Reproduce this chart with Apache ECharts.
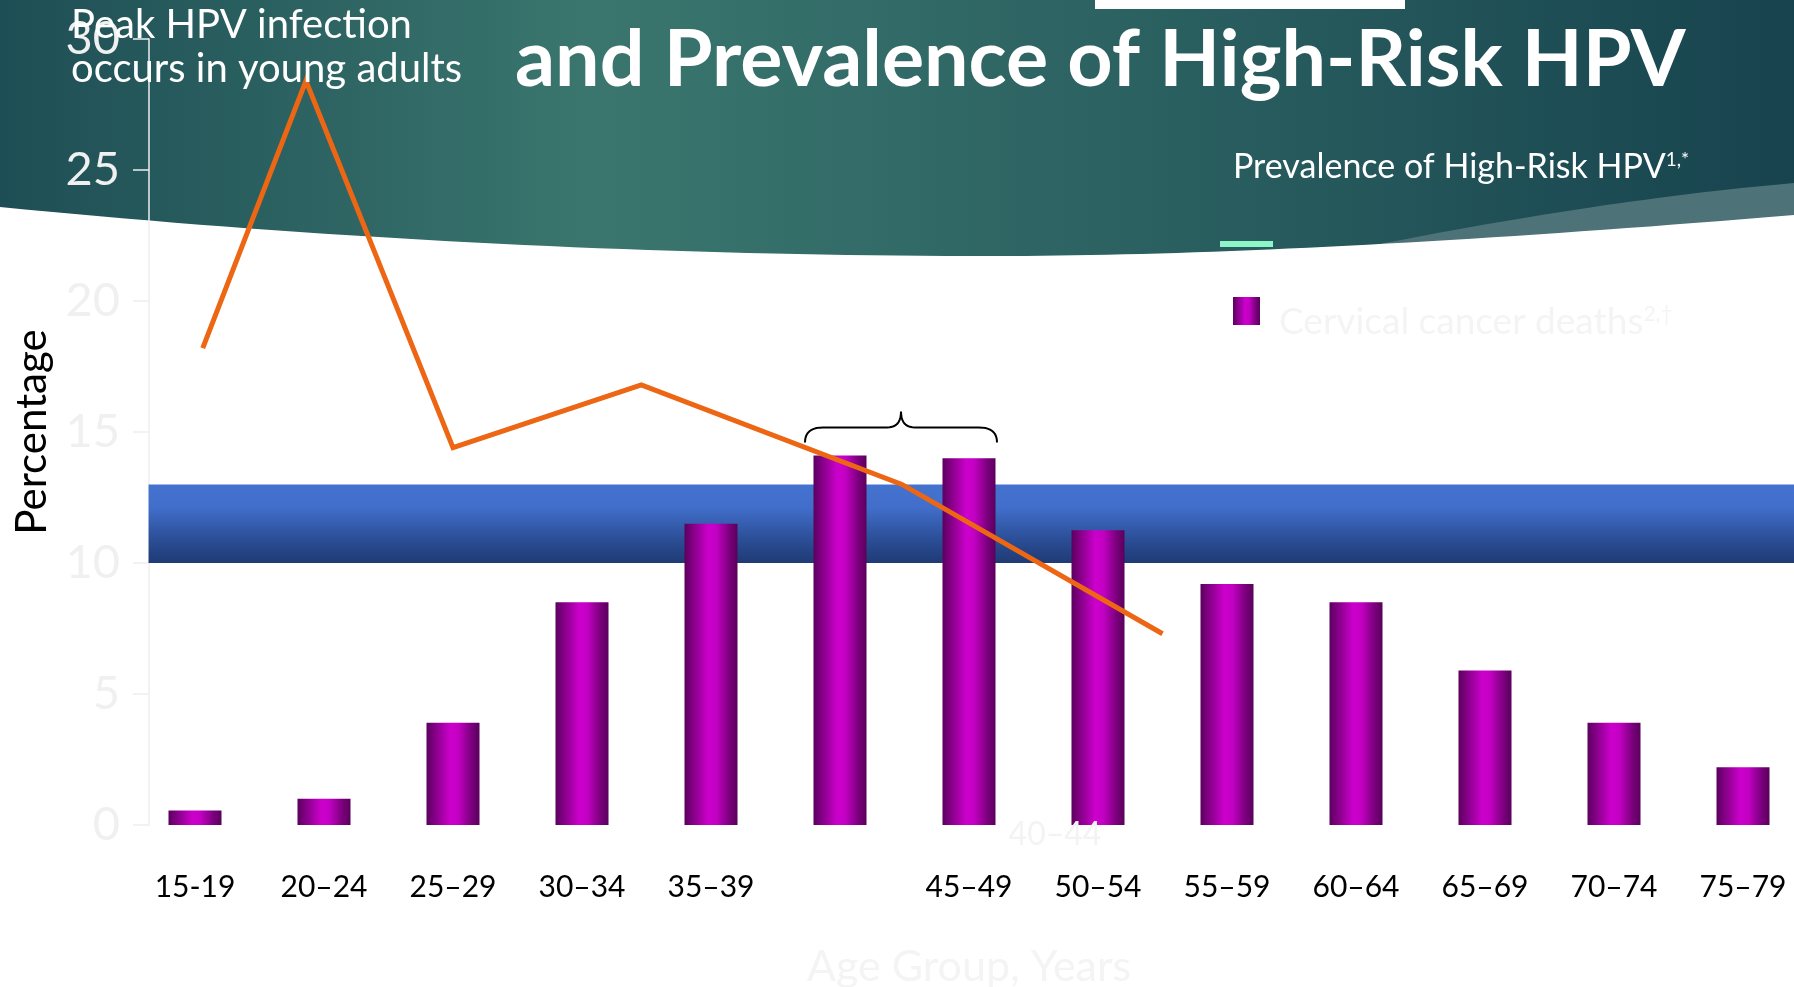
<!DOCTYPE html>
<html>
<head>
<meta charset="utf-8">
<title>Cervical cancer deaths and prevalence of high-risk HPV</title>
<script src="https://cdn.jsdelivr.net/npm/echarts@6/dist/echarts.min.js"></script>
<style>
  html, body { margin: 0; padding: 0; background: #fff; }
  #main { width: 1794px; height: 987px; }
</style>
</head>
<body>
<div id="main"></div>
<script>
// age groups on the category axis
const ageGroups = ['15-19', '20–24', '25–29', '30–34', '35–39', '40–44', '45–49',
  '50–54', '55–59', '60–64', '65–69', '70–74', '75–79'];
// cervical cancer deaths, %
const cancerDeaths = [0.55, 1.0, 3.9, 8.5, 11.5, 14.1, 14.0, 11.25, 9.2, 8.5, 5.9, 3.9, 2.2];
// prevalence of high-risk HPV: age (years) and %
const prevalenceAge = [17.8, 21.8, 27.5, 34.8, 44.9, 55.0];
const prevalenceHR = [18.2, 28.4, 14.4, 16.8, 13.0, 7.3];
// y axis ticks
const yMin = 0, yMax = 30, yStep = 5;
// shaded reference band, %
const bandRange = [10, 13];
const bandStartAge = 15.7;
const ageMin = 15, ageMax = 80;
// label that sits away from the axis in the original
const movedLabel = '40–44';

const FONT = 'Lato, "Open Sans", sans-serif';

const chart = echarts.init(document.getElementById('main'));

// quadratic curve -> list of points (for the decorative shapes)
function quad(p0, c, p1, n) {
  const pts = [];
  for (let i = 0; i <= n; i++) {
    const t = i / n;
    pts.push([
      (1 - t) * (1 - t) * p0[0] + 2 * t * (1 - t) * c[0] + t * t * p1[0],
      (1 - t) * (1 - t) * p0[1] + 2 * t * (1 - t) * c[1] + t * t * p1[1]
    ]);
  }
  return pts;
}

const barFill = new echarts.graphic.LinearGradient(0, 0, 1, 0, [
  {offset: 0, color: '#5C005E'},
  {offset: 0.2, color: '#8E008F'},
  {offset: 0.45, color: '#CC00CC'},
  {offset: 0.6, color: '#C300C3'},
  {offset: 0.85, color: '#7A007B'},
  {offset: 1, color: '#5A005C'}
]);

const tealFill = new echarts.graphic.LinearGradient(0, 0, 1, 0, [
  {offset: 0, color: '#1E4E55'},
  {offset: 0.33, color: '#3A766E'},
  {offset: 0.62, color: '#2C6262'},
  {offset: 1, color: '#17434E'}
]);

const wedgePts = quad([1794, 183], [1600, 200], [1360, 248], 30).concat([[1360, 300], [1794, 300]]);
const whitePts = quad([0, 207], [500, 256], [995, 256], 40)
  .concat(quad([995, 256], [1300, 256], [1794, 215], 40))
  .concat([[1794, 320], [0, 320]]);

const graphics = [
  // slide header background
  {type: 'rect', id: 'bg', z: -30, shape: {x: 0, y: 0, width: 1794, height: 300}, style: {fill: tealFill}},
  {type: 'polygon', id: 'wedge', z: -29, shape: {points: wedgePts}, style: {fill: '#4D7378'}},
  {type: 'polygon', id: 'white', z: -28, shape: {points: whitePts}, style: {fill: '#ffffff'}},
  {type: 'rect', id: 'topbar', z: 5, shape: {x: 1095, y: 0, width: 310, height: 9}, style: {fill: '#ffffff'}},
  {
    type: 'text', id: 'title', z: 5, x: 515, y: 61,
    style: {text: 'and Prevalence of High-Risk HPV', font: 'bold 79px ' + FONT, fill: '#ffffff', verticalAlign: 'middle'}
  },
  {
    type: 'text', id: 'peak1', z: 5, x: 71, y: 25,
    style: {text: 'Peak HPV infection', font: '40px ' + FONT, fill: '#ffffff', verticalAlign: 'middle'}
  },
  {
    type: 'text', id: 'peak2', z: 5, x: 71, y: 69,
    style: {text: 'occurs in young adults', font: '40px ' + FONT, fill: '#ffffff', verticalAlign: 'middle'}
  },
  // legend
  {
    type: 'text', id: 'legLine', z: 5, x: 1233, y: 167,
    style: {
      text: '{a|Prevalence of High-Risk HPV}{s|1,*}', verticalAlign: 'middle',
      rich: {
        a: {font: '34px ' + FONT, fill: '#ffffff'},
        s: {font: '19px ' + FONT, fill: '#ffffff', verticalAlign: 'top'}
      }
    }
  },
  {type: 'rect', id: 'legDash', z: 5, shape: {x: 1220, y: 241, width: 53, height: 6}, style: {fill: '#8EF5C6'}},
  {type: 'rect', id: 'legBox', z: 5, shape: {x: 1233, y: 297, width: 27, height: 28}, style: {fill: barFill}},
  {
    type: 'text', id: 'legBar', z: 5, x: 1279, y: 322,
    style: {
      text: '{a|Cervical cancer deaths}{s|2,†}', verticalAlign: 'middle',
      rich: {
        a: {font: '37px ' + FONT, fill: '#F4F4F4'},
        s: {font: '21px ' + FONT, fill: '#F4F4F4', verticalAlign: 'top'}
      }
    }
  },
  {
    type: 'text', id: 'moved', z: 5, x: 1055, y: 835,
    style: {text: movedLabel, font: '32px ' + FONT, fill: '#F3F3F3', align: 'center', verticalAlign: 'middle'}
  }
];

const option = {
  animation: false,
  backgroundColor: '#ffffff',
  grid: {left: 130.5, right: -13.5, top: 39, bottom: 162, containLabel: false, outerBoundsMode: 'none'},
  xAxis: [
    {
      type: 'category',
      data: ageGroups,
      axisLine: {show: false},
      axisTick: {show: false},
      axisLabel: {
        color: '#000', fontFamily: FONT, fontSize: 30, margin: 47,
        formatter: function (v) { return v === movedLabel ? '' : v; }
      },
      name: 'Age Group, Years',
      nameLocation: 'middle',
      nameGap: 121,
      nameTextStyle: {color: '#F4F4F4', fontFamily: FONT, fontSize: 43}
    },
    {type: 'value', min: ageMin, max: ageMax, show: false}
  ],
  yAxis: {
    type: 'value',
    min: yMin, max: yMax, interval: yStep,
    offset: -18.5,
    axisLine: {show: true, lineStyle: {color: '#EEEEEE', width: 1.5}},
    axisTick: {show: true, length: 16, lineStyle: {color: '#EEEEEE', width: 1.5}},
    axisLabel: {color: '#F0F0F0', fontFamily: FONT, fontSize: 47, margin: 29},
    splitLine: {show: false},
    name: 'Percentage',
    nameLocation: 'middle',
    nameRotate: 90,
    nameGap: 96,
    nameTextStyle: {color: '#000', fontFamily: FONT, fontSize: 42}
  },
  series: [
    {
      name: 'Cervical cancer deaths',
      type: 'bar',
      data: cancerDeaths,
      barWidth: 53,
      itemStyle: {color: barFill},
      z: 2
    },
    {
      name: 'Prevalence of High-Risk HPV',
      type: 'line',
      xAxisIndex: 1,
      data: prevalenceAge.map((a, i) => [a, prevalenceHR[i]]),
      symbol: 'none',
      lineStyle: {color: '#EC6613', width: 5, join: 'miter'},
      z: 4,
      markArea: {
        silent: true,
        z: 1,
        itemStyle: {
          color: new echarts.graphic.LinearGradient(0, 0, 0, 1, [
            {offset: 0, color: '#4473CF'},
            {offset: 0.3, color: '#416ECA'},
            {offset: 0.7, color: '#2B4E96'},
            {offset: 1, color: '#1F3A75'}
          ])
        },
        data: [[{coord: [bandStartAge, bandRange[1]]}, {coord: [ageMax, bandRange[0]]}]]
      }
    }
  ],
  graphic: graphics
};

chart.setOption(option);

// brace over the two highest bars
const xl = chart.convertToPixel({xAxisIndex: 0}, '40–44') - 35;
const xr = chart.convertToPixel({xAxisIndex: 0}, '45–49') + 28;
const yb = chart.convertToPixel({yAxisIndex: 0}, 14.6);
const yh = yb - 15, yt = yb - 31;
const xm = (xl + xr) / 2;
const bracePts = quad([xl, yb], [xl, yh], [xl + 18, yh], 10)
  .concat(quad([xm - 14, yh], [xm, yh], [xm, yt], 10))
  .concat(quad([xm, yt], [xm, yh], [xm + 14, yh], 10))
  .concat(quad([xr - 18, yh], [xr, yh], [xr, yb], 10));
graphics.push({
  type: 'polyline', id: 'brace', z: 6,
  shape: {points: bracePts},
  style: {fill: null, stroke: '#000', lineWidth: 2}
});
chart.setOption({graphic: graphics});
</script>
</body>
</html>
